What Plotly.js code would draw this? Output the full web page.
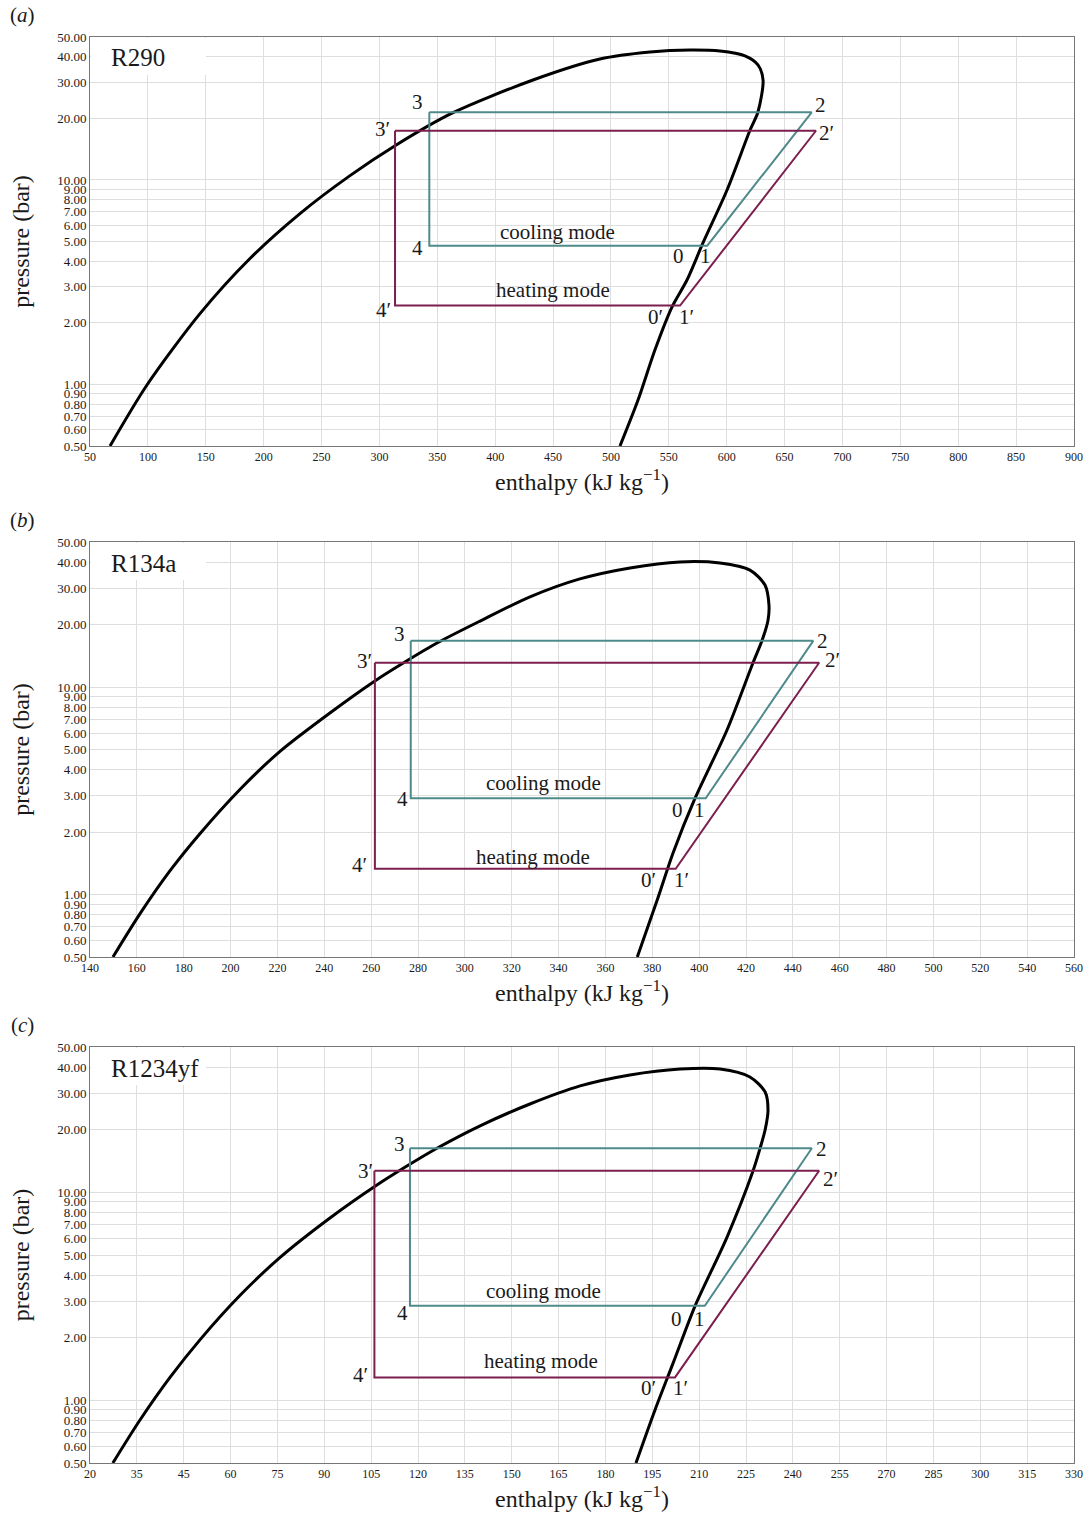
<!DOCTYPE html>
<html>
<head>
<meta charset="utf-8">
<script src="https://cdn.plot.ly/plotly-3.0.1.min.js"></script>
<style>
html,body{margin:0;padding:0;background:#fff;}
#chart{width:1092px;height:1514px;}
</style>
</head>
<body>
<div id="chart"></div>
<script>
// ---------------- DATA ----------------
const refrigerants = ['R290', 'R134a', 'R1234yf'];
const panelLetters = ['a', 'b', 'c'];

// saturation dome (enthalpy kJ/kg, pressure bar)
const satH_R290 = [67.3, 99.2, 145.0, 188.2, 231.4, 274.6, 313.5, 362.7, 432.7, 490.5, 533.7, 568.3, 594.2, 615.8, 627.0, 631.4, 627.0, 620.1, 600.3, 579.5, 565.7, 552.7, 537.9, 523.4, 507.8];
const satP_R290 = [0.50, 0.994, 2.22, 4.13, 6.85, 10.5, 14.7, 21.2, 30.8, 39.0, 42.2, 43.2, 42.7, 40.4, 36.5, 30.8, 21.5, 17.5, 8.93, 4.92, 3.24, 2.39, 1.47, 0.839, 0.50];

const satH_R134a = [149.8, 161.3, 174.1, 187.0, 204.0, 221.1, 242.4, 261.6, 274.4, 288.1, 306.5, 327.8, 349.1, 370.5, 391.8, 408.9, 421.7, 428.1, 429.8, 429.4, 426.8, 423.0, 411.9, 398.3, 388.9, 382.1, 373.6];
const satP_R134a = [0.50, 0.807, 1.30, 1.97, 3.21, 4.90, 7.50, 10.7, 13.2, 16.3, 20.8, 27.2, 33.2, 37.5, 40.1, 39.6, 36.6, 31.0, 24.9, 21.0, 16.7, 13.1, 6.21, 2.92, 1.59, 0.94, 0.50];

const satH_R1234yf = [27.2, 35.8, 45.2, 54.7, 67.3, 79.9, 95.6, 109.8, 119.2, 129.3, 142.9, 158.6, 174.4, 190.1, 205.9, 218.5, 227.9, 232.7, 233.6, 232.7, 231.1, 228.9, 220.7, 210.6, 203.7, 198.0, 192.0];
const satP_R1234yf = [0.50, 0.807, 1.29, 1.96, 3.20, 4.87, 7.53, 10.7, 13.2, 16.3, 20.9, 26.6, 32.5, 36.7, 39.2, 39.2, 35.9, 30.4, 24.9, 20.0, 16.3, 12.7, 6.10, 2.84, 1.51, 0.90, 0.50];

// cycle state points, order: 3, 2, 1, 4
const coolH_R290 = [343.1, 673.4, 583.2, 343.1];
const coolP_R290 = [21.4, 21.4, 4.77, 4.77];
const heatH_R290 = [313.5, 677.1, 559.7, 313.5];
const heatP_R290 = [17.4, 17.4, 2.43, 2.43];

const coolH_R134a = [276.9, 448.7, 402.8, 276.9];
const coolP_R134a = [16.7, 16.7, 2.91, 2.91];
const heatH_R134a = [261.6, 451.2, 390.0, 261.6];
const heatP_R134a = [13.1, 13.1, 1.33, 1.33];

const coolH_R1234yf = [120.8, 247.4, 213.7, 120.8];
const coolP_R1234yf = [16.3, 16.3, 2.85, 2.85];
const heatH_R1234yf = [109.6, 249.7, 204.3, 109.6];
const heatP_R1234yf = [12.7, 12.7, 1.29, 1.29];

// tick labels
const xTicksA = [50, 100, 150, 200, 250, 300, 350, 400, 450, 500, 550, 600, 650, 700, 750, 800, 850, 900];
const xTicksB = [140, 160, 180, 200, 220, 240, 260, 280, 300, 320, 340, 360, 380, 400, 420, 440, 460, 480, 500, 520, 540, 560];
const xTickTextC = ['20', '35', '45', '60', '75', '90', '105', '120', '135', '150', '165', '180', '195', '210', '225', '240', '255', '270', '285', '300', '315', '330'];
const yTicks = [0.5, 0.6, 0.7, 0.8, 0.9, 1, 2, 3, 4, 5, 6, 7, 8, 9, 10, 20, 30, 40, 50];
const yTickText = ['0.50', '0.60', '0.70', '0.80', '0.90', '1.00', '2.00', '3.00', '4.00', '5.00', '6.00', '7.00', '8.00', '9.00', '10.00', '20.00', '30.00', '40.00', '50.00'];

// ---------------- BUILD ----------------
const FONT = '"Liberation Serif", "Times New Roman", Times, serif';
const COOL = '#4f8a8b';
const HEAT = '#7b1f4e';
const TXT = '#1a1a1a';

const panels = [
  {sat: [satH_R290, satP_R290], cool: [coolH_R290, coolP_R290], heat: [heatH_R290, heatP_R290],
   xrange: [50, 900], tickvals: xTicksA, ticktext: xTicksA.map(String), top: 37, bottom: 446,
   off: {c3: [-12, 10], c2: [9, 7], c1: [-2, -10], c0: [-29, -10], c4: [-12, -2],
         h3: [-13, 2], h2: [11, -2], h1: [6, -11], h0: [-25, -11], h4: [-12, -4],
         cm: [-11, 14], hm: [15, 16]}},
  {sat: [satH_R134a, satP_R134a], cool: [coolH_R134a, coolP_R134a], heat: [heatH_R134a, heatP_R134a],
   xrange: [140, 560], tickvals: xTicksB, ticktext: xTicksB.map(String), top: 542, bottom: 957,
   off: {c3: [-11, 7], c2: [9, 0], c1: [-6, -12], c0: [-28, -12], c4: [-8, -1],
         h3: [-10, 2], h2: [13, 3], h1: [6, -11], h0: [-27, -11], h4: [-15, 4],
         cm: [-15, 15], hm: [8, 12]}},
  {sat: [satH_R1234yf, satP_R1234yf], cool: [coolH_R1234yf, coolP_R1234yf], heat: [heatH_R1234yf, heatP_R1234yf],
   xrange: [20, 330], tickvals: xTickTextC.map((_, i) => 20 + i * (330 - 20) / (xTickTextC.length - 1)), ticktext: xTickTextC, top: 1047, bottom: 1463,
   off: {c3: [-10, 4], c2: [10, -1], c1: [-5, -13], c0: [-28, -13], c4: [-7, -7],
         h3: [-9, 0], h2: [11, -8], h1: [5, -11], h0: [-27, -11], h4: [-14, 2],
         cm: [-14, 15], hm: [16, 16]}}
];

const H = 1514, MT = 37, MB = 51, PH = H - MT - MB;
const L = 90, R = 18, PW = 1092 - L - R;
const py2paper = py => 1 - (py - MT) / PH;
const px2paper = px => (px - L) / PW;

const traces = [];
const annotations = [];
const shapes = [];
const layout = {
  width: 1092, height: 1514,
  margin: {l: L, r: R, t: MT, b: MB, pad: 0},
  paper_bgcolor: '#fff', plot_bgcolor: '#fff',
  showlegend: false,
  font: {family: FONT, color: TXT, size: 12},
  annotations: annotations, shapes: shapes
};

panels.forEach((P, i) => {
  const n = i === 0 ? '' : String(i + 1);
  const xa = 'x' + n, ya = 'y' + n;
  traces.push({x: P.sat[0], y: P.sat[1], xaxis: xa, yaxis: ya, mode: 'lines',
    line: {color: '#000', width: 3, shape: 'spline', smoothing: 0.8}, hoverinfo: 'skip'});
  traces.push({x: P.cool[0].concat([P.cool[0][0]]), y: P.cool[1].concat([P.cool[1][0]]), xaxis: xa, yaxis: ya,
    mode: 'lines', line: {color: COOL, width: 2}, hoverinfo: 'skip'});
  traces.push({x: P.heat[0].concat([P.heat[0][0]]), y: P.heat[1].concat([P.heat[1][0]]), xaxis: xa, yaxis: ya,
    mode: 'lines', line: {color: HEAT, width: 2}, hoverinfo: 'skip'});

  const dom = [py2paper(P.bottom), py2paper(P.top)];
  layout['xaxis' + n] = {
    domain: [0, 1], anchor: ya, range: P.xrange, tickmode: 'array', tickvals: P.tickvals, ticktext: P.ticktext,
    showgrid: true, gridcolor: '#dedede', gridwidth: 1, zeroline: false,
    showline: true, linecolor: '#777', linewidth: 1, mirror: true, ticks: '',
    tickfont: {family: FONT, size: 12, color: TXT}, automargin: false,
    title: {text: 'enthalpy (kJ kg<sup>−1</sup>)', font: {family: FONT, size: 24, color: TXT}, standoff: 9}
  };
  layout['yaxis' + n] = {
    domain: dom, anchor: xa, type: 'log', range: [Math.log10(0.5), Math.log10(50)],
    tickmode: 'array', tickvals: yTicks, ticktext: yTickText,
    showgrid: true, gridcolor: '#dedede', gridwidth: 1, zeroline: false,
    showline: true, linecolor: '#777', linewidth: 1, mirror: true, ticks: '',
    tickfont: {family: FONT, size: 13, color: TXT}, automargin: false,
    title: {text: 'pressure (bar)', font: {family: FONT, size: 24, color: TXT}, standoff: 20}
  };

  // white label box + refrigerant name
  shapes.push({type: 'rect', xref: 'paper', yref: 'paper', layer: 'above',
    x0: px2paper(91), x1: px2paper(206), y0: py2paper(P.top + 38), y1: py2paper(P.top + 1),
    fillcolor: '#fff', line: {width: 0}});
  annotations.push({xref: 'paper', yref: 'paper', x: px2paper(109), y: py2paper(P.top + 21),
    xanchor: 'left', yanchor: 'middle', showarrow: false, text: refrigerants[i],
    font: {family: FONT, size: 25, color: TXT}});
  // panel letter
  annotations.push({xref: 'paper', yref: 'paper', x: px2paper(22), y: py2paper(P.top - 22),
    xanchor: 'center', yanchor: 'middle', showarrow: false, text: '(<i>' + panelLetters[i] + '</i>)',
    font: {family: FONT, size: 21, color: TXT}});

  const lab = (txt, h, p, o) => annotations.push({xref: xa, yref: ya, x: h, y: Math.log10(p),
    text: txt, showarrow: false, xanchor: 'center', yanchor: 'middle', xshift: o[0], yshift: o[1],
    font: {family: FONT, size: 21, color: TXT}});
  const cH = P.cool[0], cP = P.cool[1], hH = P.heat[0], hP = P.heat[1], o = P.off;
  lab('3', cH[0], cP[0], o.c3);
  lab('2', cH[1], cP[1], o.c2);
  lab('1', cH[2], cP[2], o.c1);
  lab('0', cH[2], cP[2], o.c0);
  lab('4', cH[3], cP[3], o.c4);
  lab('3′', hH[0], hP[0], o.h3);
  lab('2′', hH[1], hP[1], o.h2);
  lab('1′', hH[2], hP[2], o.h1);
  lab('0′', hH[2], hP[2], o.h0);
  lab('4′', hH[3], hP[3], o.h4);
  lab('cooling mode', (cH[3] + cH[2]) / 2, cP[2], o.cm);
  lab('heating mode', (hH[3] + hH[2]) / 2, hP[2], o.hm);
});

Plotly.newPlot('chart', traces, layout, {staticPlot: true});
</script>
</body>
</html>
